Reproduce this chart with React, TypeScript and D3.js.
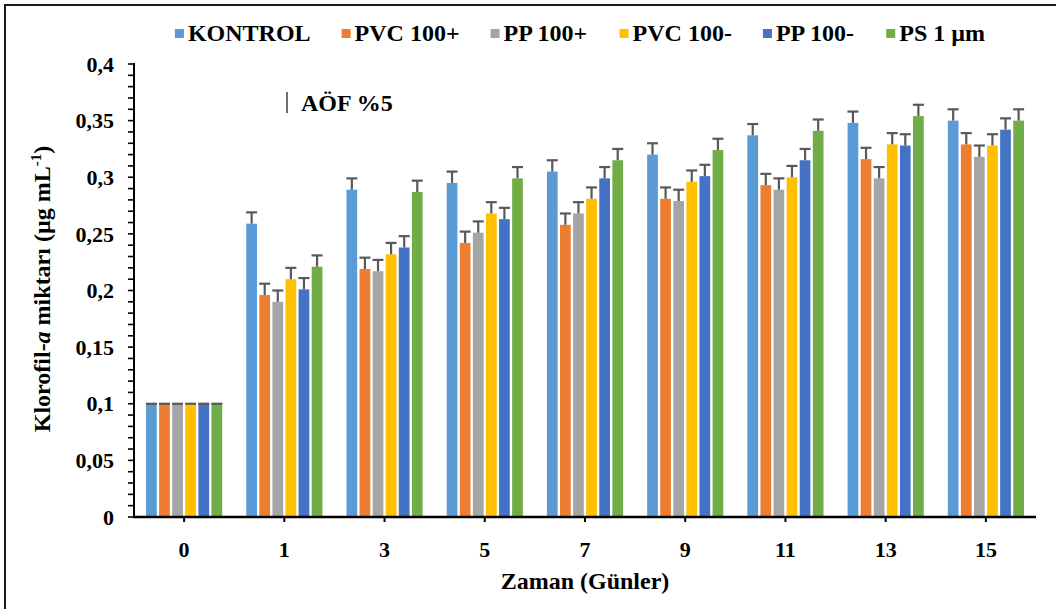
import React from "react";
import * as d3 from "d3";

const days = ["0", "1", "3", "5", "7", "9", "11", "13", "15"];
const seriesNames = ["KONTROL", "PVC 100+", "PP 100+", "PVC 100-", "PP 100-", "PS 1 µm"];
const seriesColors = ["#5B9BD5", "#ED7D31", "#A5A5A5", "#FFC000", "#4472C4", "#70AD47"];

const kontrol = [0.1, 0.259, 0.289, 0.295, 0.305, 0.320, 0.337, 0.348, 0.350];
const pvc100p = [0.1, 0.196, 0.219, 0.242, 0.258, 0.281, 0.293, 0.316, 0.329];
const pp100p = [0.1, 0.190, 0.217, 0.251, 0.268, 0.279, 0.289, 0.299, 0.318];
const pvc100m = [0.1, 0.210, 0.232, 0.268, 0.281, 0.296, 0.300, 0.329, 0.328];
const pp100m = [0.1, 0.201, 0.238, 0.263, 0.299, 0.301, 0.315, 0.328, 0.342];
const ps1um = [0.1, 0.221, 0.287, 0.299, 0.315, 0.324, 0.341, 0.354, 0.350];
const errors = [0, 0.01, 0.01, 0.01, 0.01, 0.01, 0.01, 0.01, 0.01];

const yTicks = [0, 0.05, 0.1, 0.15, 0.2, 0.25, 0.3, 0.35, 0.4];
const yTickLabels = ["0", "0,05", "0,1", "0,15", "0,2", "0,25", "0,3", "0,35", "0,4"];

const allSeries = [kontrol, pvc100p, pp100p, pvc100m, pp100m, ps1um];

const FONT = "'Liberation Serif', 'Times New Roman', Times, serif";

function measure(text: string, font: string): number {
  const c = document.createElement("canvas");
  const ctx = c.getContext("2d");
  if (!ctx) return text.length * 10;
  ctx.font = font;
  return ctx.measureText(text).width;
}

export default function App() {
  const W = 1056;
  const H = 609;
  const left = 134;
  const right = 1036;
  const top = 64;
  const bottom = 517;

  const y = d3.scaleLinear().domain([0, 0.4]).range([bottom, top]);
  const x0 = d3.scaleBand<string>().domain(days).range([left, right]).padding(0);
  const groupW = x0.bandwidth() * 0.76;
  const x1 = d3
    .scaleBand<string>()
    .domain(seriesNames)
    .range([0, groupW])
    .paddingInner(0.18)
    .paddingOuter(0);

  const minorTicks = d3.range(0, 0.4001, 0.01);

  // legend layout
  const legendFontSize = 24;
  const legendFont = `bold ${legendFontSize}px 'Liberation Serif'`;
  const sq = 9;
  const gap = 31;
  const items = seriesNames.map((n) => ({ n, w: measure(n, legendFont) }));
  const totalW = items.reduce((s, it) => s + sq + 4 + it.w, 0) + gap * (items.length - 1);
  let lx = 580 - totalW / 2;
  const legendItems = items.map((it, i) => {
    const o = { ...it, x: lx, color: seriesColors[i] };
    lx += sq + 4 + it.w + gap;
    return o;
  });

  const txt = { fontFamily: FONT, fontWeight: 700 as const };

  return (
    <svg
      width={W}
      height={H}
      style={{ position: "absolute", left: 0, top: 0, background: "#fff", fontFamily: FONT }}
    >
      <rect x={0} y={0} width={W} height={H} fill="#fff" />
      {/* frame */}
      <line x1={4} y1={5} x2={W + 5} y2={5} stroke="#1a1a1a" strokeWidth={2} />
      <line x1={5} y1={4} x2={5} y2={H + 5} stroke="#1a1a1a" strokeWidth={2} />

      {/* legend */}
      {legendItems.map((it) => (
        <g key={it.n}>
          <rect x={it.x} y={29} width={sq} height={sq} fill={it.color} />
          <text x={it.x + sq + 4} y={41} fontSize={legendFontSize} style={txt} fill="#000">
            {it.n}
          </text>
        </g>
      ))}

      {/* bars */}
      {days.map((d, di) => (
        <g key={d} transform={`translate(${(x0(d) as number) + (x0.bandwidth() - groupW) / 2},0)`}>
          {allSeries.map((s, si) => {
            const bx = x1(seriesNames[si]) as number;
            const bw = x1.bandwidth();
            const v = s[di];
            const e = errors[di];
            const cx = bx + bw / 2;
            return (
              <g key={si}>
                <rect x={bx} y={y(v)} width={bw} height={y(0) - y(v)} fill={seriesColors[si]} />
                <line x1={cx} x2={cx} y1={y(v)} y2={y(v + e)} stroke="#595959" strokeWidth={2.2} />
                <line
                  x1={cx - 5.5}
                  x2={cx + 5.5}
                  y1={y(v + e)}
                  y2={y(v + e)}
                  stroke="#595959"
                  strokeWidth={2.2}
                />
              </g>
            );
          })}
        </g>
      ))}

      {/* y axis */}
      <line x1={left} x2={left} y1={y(0.4) - 1} y2={bottom + 1} stroke="#000" strokeWidth={2} />
      {minorTicks.map((t, i) => (
        <line key={i} x1={left - 6} x2={left} y1={y(t)} y2={y(t)} stroke="#000" strokeWidth={1.6} />
      ))}
      {yTicks.map((t, i) => (
        <text
          key={t}
          x={114}
          y={y(t)}
          dy="0.35em"
          textAnchor="end"
          fontSize={22}
          style={txt}
          fill="#000"
        >
          {yTickLabels[i]}
        </text>
      ))}

      {/* x axis */}
      <line x1={left - 1} x2={right} y1={bottom} y2={bottom} stroke="#000" strokeWidth={2.4} />
      {days.map((d) => {
        const cx = (x0(d) as number) + x0.bandwidth() / 2;
        return (
          <g key={d}>
            <line x1={cx} x2={cx} y1={bottom} y2={bottom + 5} stroke="#000" strokeWidth={2} />
            <text x={cx} y={557} textAnchor="middle" fontSize={22} style={txt} fill="#000">
              {d}
            </text>
          </g>
        );
      })}

      {/* axis titles */}
      <text x={585} y={589} textAnchor="middle" fontSize={24} style={txt} fill="#000">
        Zaman (Günler)
      </text>
      <text
        transform="translate(50,289) rotate(-90)"
        textAnchor="middle"
        fontSize={24}
        style={txt}
        fill="#000"
      >
        <tspan>Klorofil-</tspan>
        <tspan fontStyle="italic">a</tspan>
        <tspan> miktarı (µg mL</tspan>
        <tspan fontSize={15} dy={-9}>-1</tspan>
        <tspan dy={9}>)</tspan>
      </text>

      {/* annotation */}
      <line x1={287} x2={287} y1={92} y2={113} stroke="#404040" strokeWidth={1.5} />
      <text x={301} y={111} fontSize={24} style={txt} fill="#000">
        AÖF %5
      </text>
    </svg>
  );
}
